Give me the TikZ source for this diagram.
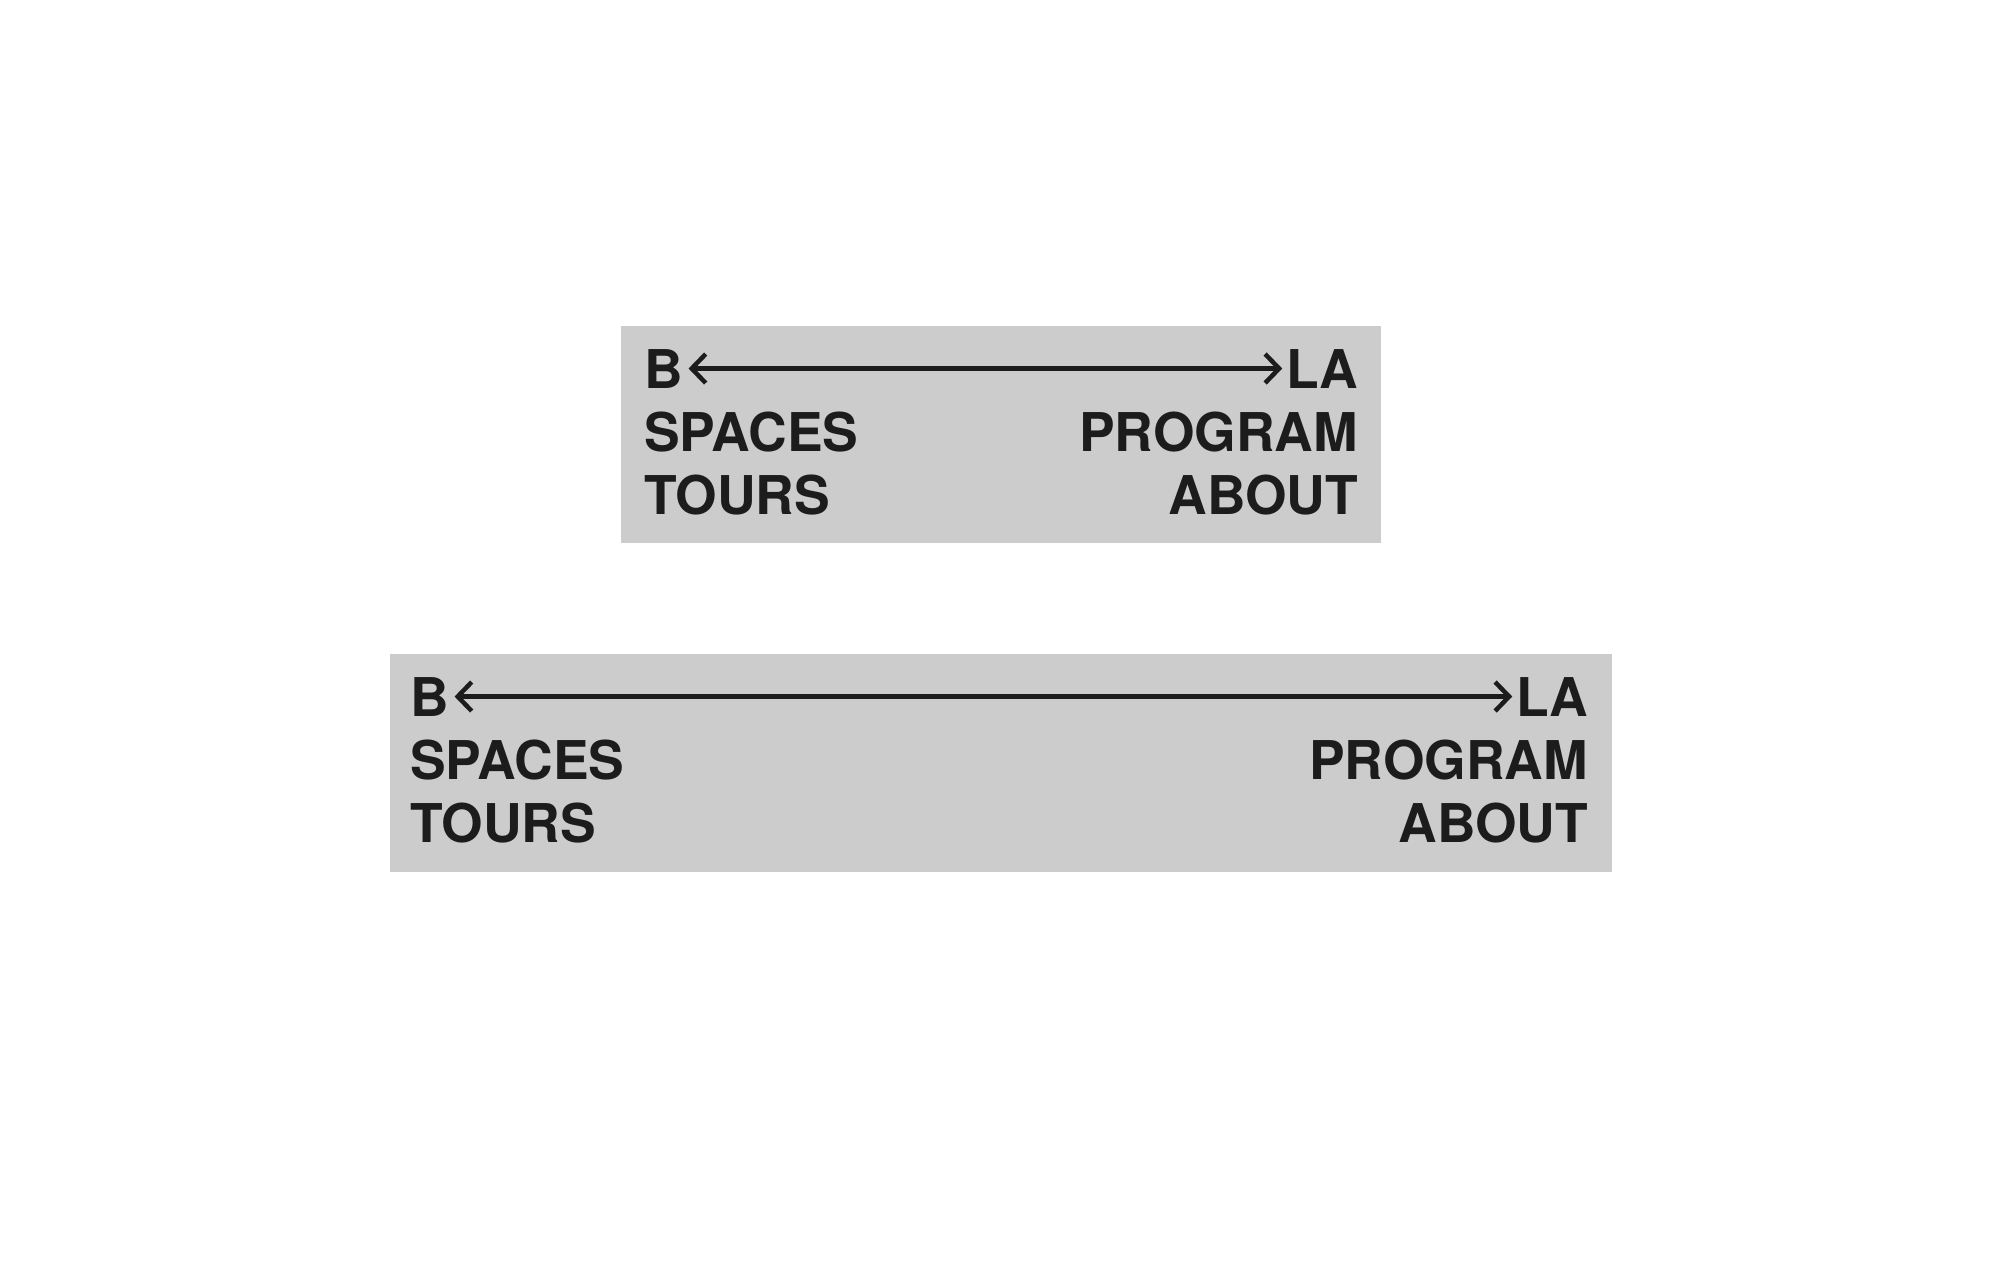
\documentclass[tikz,border=0pt]{standalone}
\usepackage{fontspec}
\setmainfont{TeX Gyre Heros}
\usetikzlibrary{arrows.meta}
\definecolor{navgray}{HTML}{CCCCCC}
\definecolor{navink}{HTML}{1C1C1C}
\begin{document}
\begin{tikzpicture}[x=0.1mm,y=-0.1mm,
	lbl/.style={inner sep=0,outer sep=0,text=navink,font=\fontsize{15.2pt}{18pt}\selectfont\bfseries},
	barb/.tip={Straight Barb[length=1.4mm,width=2.9mm]},
	link/.style={navink,line width=0.45mm,barb-barb,shorten <=0.6mm,shorten >=0.4mm}]
	% Frame
	\useasboundingbox (0,0) rectangle (2000,1286);
	% Narrow bar
	\fill[navgray] (621,326) rectangle (1381,543);
	\node[lbl,anchor=base west] (b1) at (644,388) {B};
	\node[lbl,anchor=base east] (la1) at (1358,388) {LA};
	\node[lbl,anchor=base west] (spaces1) at (644,451) {SPACES};
	\node[lbl,anchor=base west] (tours1) at (644,514) {TOURS};
	\node[lbl,anchor=base east] (program1) at (1358,451) {PROGRAM};
	\node[lbl,anchor=base east] (about1) at (1358,514) {ABOUT};
	\draw[link] (b1) -- (la1);
	% Wide bar
	\fill[navgray] (390,654) rectangle (1612,872);
	\node[lbl,anchor=base west] (b2) at (410,716) {B};
	\node[lbl,anchor=base east] (la2) at (1588,716) {LA};
	\node[lbl,anchor=base west] (spaces2) at (410,779) {SPACES};
	\node[lbl,anchor=base west] (tours2) at (410,842) {TOURS};
	\node[lbl,anchor=base east] (program2) at (1588,779) {PROGRAM};
	\node[lbl,anchor=base east] (about2) at (1588,842) {ABOUT};
	\draw[link] (b2) -- (la2);
\end{tikzpicture}
\end{document}
